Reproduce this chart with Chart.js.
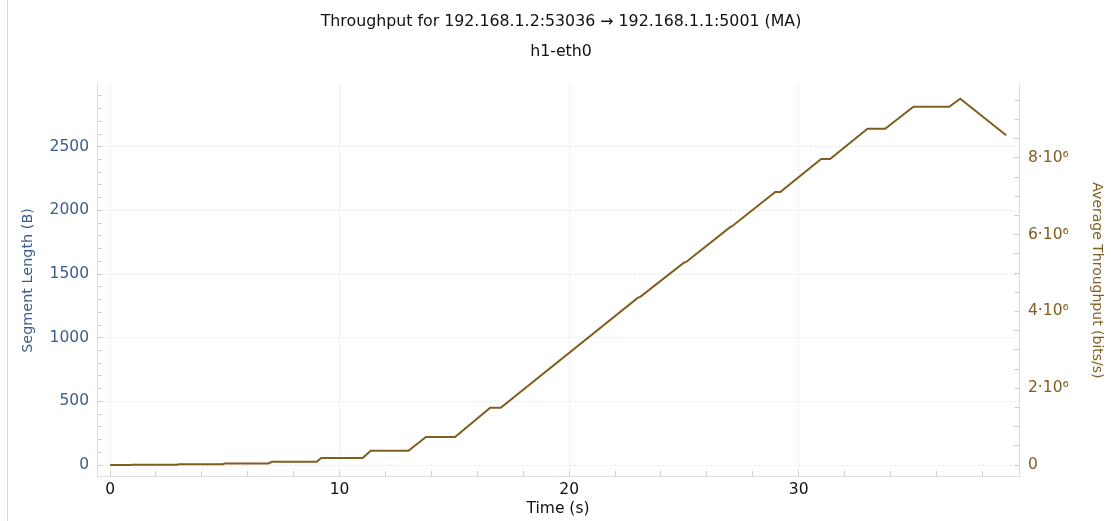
<!DOCTYPE html>
<html>
<head>
<meta charset="utf-8">
<title>Throughput</title>
<script src="https://cdn.jsdelivr.net/npm/chart.js@4/dist/chart.umd.min.js"></script>
<style>
    body { margin: 0; background: #fff; }
    #wrap { position: relative; width: 1112px; height: 521px; }
    #edge { position: absolute; left: 7px; top: 0; width: 0; height: 521px; border-left: 1px solid #d8d8d8; }
    canvas { position: absolute; left: 0; top: 0; }
</style>
</head>
<body>
<div id="wrap">
    <div id="edge"></div>
    <canvas id="tputChart" width="1112" height="521"></canvas>
</div>
<script>
// moving average throughput (time in s, bits/s)
const timeSec = [0, 0.9, 1.0, 2.9, 3.0, 4.9, 5.0, 6.9, 7.05, 9.0, 9.2, 11.0, 11.36, 13.0, 13.76, 15.03,
    16.56, 17.02, 23.0, 23.1, 25.0, 25.1, 27.0, 27.1, 28.98, 29.2, 30.98, 31.37, 33.0, 33.77,
    35.0, 36.56, 37.04, 39.04];
const throughput = [0, 0, 10000, 10000, 20000, 20000, 40000, 40000, 85000, 85000, 185000, 185000,
    370000, 370000, 730000, 730000, 1490000, 1490000, 4360000, 4380000, 5270000, 5290000,
    6190000, 6220000, 7110000, 7110000, 7970000, 7970000, 8760000, 8760000, 9330000, 9330000,
    9540000, 8590000];

// labelled ticks
const timeTicks = [0, 10, 20, 30];
const segLenTicks = [0, 500, 1000, 1500, 2000, 2500];
const tputTicks = [0, 2e6, 4e6, 6e6, 8e6];
// minor tick spacing on the throughput axis
const tputMinorStep = 0.5e6;

const blue = '#3b5c8c';
const brown = '#7f5f1f';
const font = "'DejaVu Sans', sans-serif";

const isMajor = (list, v) => list.some(t => Math.abs(t - v) < 1e-6 * Math.max(1, Math.abs(t)));

function tputLabel(v) {
    if (v === 0) return '0';
    return Math.round(v / 1e6) + '\u00b710\u2076';
}

const ctx = document.getElementById('tputChart').getContext('2d');

const tputChart = new Chart(ctx, {
    type: 'line',
    data: {
        datasets: [{
            label: 'Average Throughput',
            data: timeSec.map((t, i) => ({ x: t, y: throughput[i] })),
            yAxisID: 'y1',
            borderColor: brown,
            borderWidth: 2,
            pointRadius: 0,
            tension: 0,
            fill: false
        }]
    },
    options: {
        responsive: false,
        animation: false,
        devicePixelRatio: 1,
        layout: { padding: { left: 10, right: 0, top: 0, bottom: 0 } },
        plugins: {
            legend: { display: false },
            tooltip: { enabled: false },
            title: {
                display: true,
                text: 'Throughput for 192.168.1.2:53036 \u2192 192.168.1.1:5001 (MA)',
                color: '#111',
                font: { family: font, size: 15.8, weight: 'normal' },
                padding: { top: 12, bottom: 11 }
            },
            subtitle: {
                display: true,
                text: 'h1-eth0',
                color: '#111',
                font: { family: font, size: 15.8, weight: 'normal' },
                padding: { top: 0, bottom: 24 }
            }
        },
        scales: {
            x: {
                type: 'linear',
                min: -0.57,
                max: 39.6,
                afterFit: s => { s.height = 45; },
                ticks: {
                    stepSize: 2,
                    includeBounds: false,
                    autoSkip: false,
                    maxRotation: 0,
                    padding: 10,
                    color: '#111',
                    font: { family: font, size: 15.5 },
                    callback: v => isMajor(timeTicks, v) ? String(v) : ''
                },
                grid: {
                    color: c => isMajor(timeTicks, c.tick.value) ? '#e6e6e6' : 'rgba(0,0,0,0)',
                    tickColor: '#d0d0d0',
                    tickLength: -5
                },
                border: { color: '#dcdcdc', dash: [2, 2] },
                title: {
                    display: true,
                    text: 'Time (s)',
                    color: '#111',
                    font: { family: font, size: 15.5 },
                    padding: { top: 0, bottom: 3 }
                }
            },
            y: {
                type: 'linear',
                position: 'left',
                min: -86,
                max: 2986,
                afterFit: s => { s.width = 87; },
                ticks: {
                    stepSize: 100,
                    includeBounds: false,
                    autoSkip: false,
                    padding: 13,
                    color: blue,
                    font: { family: font, size: 15.5 },
                    callback: v => isMajor(segLenTicks, v) ? String(v) : ''
                },
                grid: {
                    color: c => isMajor(segLenTicks, c.tick.value) ? '#e6e6e6' : 'rgba(0,0,0,0)',
                    tickColor: '#d0d0d0',
                    tickLength: -5
                },
                border: { color: '#dcdcdc', dash: [2, 2] },
                title: {
                    display: true,
                    text: 'Segment Length (B)',
                    color: blue,
                    font: { family: font, size: 14.4 },
                    padding: { top: 10, bottom: 0 }
                }
            },
            y1: {
                type: 'linear',
                position: 'right',
                min: -0.286e6,
                max: 9.9e6,
                afterFit: s => { s.width = 93; },
                // chart.js rounds the step for big numbers, so lay the ticks out by hand
                afterBuildTicks: s => {
                    const ticks = [];
                    for (let v = 0; v <= s.max; v += tputMinorStep) ticks.push({ value: v });
                    s.ticks = ticks;
                },
                ticks: {
                    autoSkip: false,
                    padding: 14,
                    color: brown,
                    font: { family: font, size: 15.5 },
                    callback: v => isMajor(tputTicks, v) ? tputLabel(v) : ''
                },
                grid: {
                    drawOnChartArea: false,
                    tickColor: '#d0d0d0',
                    tickLength: -5
                },
                border: { color: '#dcdcdc' },
                title: {
                    display: true,
                    text: 'Average Throughput (bits/s)',
                    color: brown,
                    font: { family: font, size: 14 },
                    padding: { top: 7, bottom: 0 }
                }
            }
        }
    }
});
</script>
</body>
</html>
